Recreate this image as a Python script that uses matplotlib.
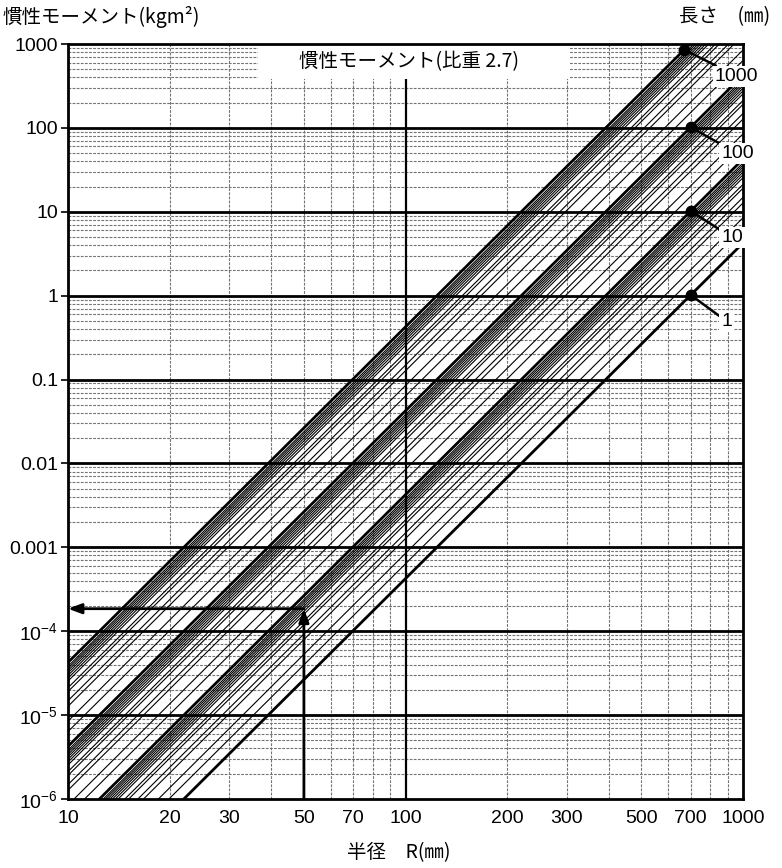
import numpy as np
import matplotlib
matplotlib.use("Agg")
import matplotlib.pyplot as plt
from matplotlib.patches import Rectangle

# ---- chart data -------------------------------------------------------------
specific_gravity = 2.7                      # aluminium
lengths_mm = [1, 10, 100, 1000]             # thick reference lines
band_fractions = [0.9, 0.85, 0.8, 0.75, 0.7, 0.65, 0.6, 0.5, 0.45,
                  0.35, 0.3, 0.2, 0.15]
label_radius_mm = [700, 700, 700, 670]      # dot positions on each thick line
radius_ticks = [10, 20, 30, 50, 70, 100, 200, 300, 500, 700, 1000]
inertia_ticks = [1e-6, 1e-5, 1e-4, 1e-3, 1e-2, 1e-1, 1, 10, 100, 1000]
inertia_ticklabels = [r"$\mathregular{10^{-6}}$", r"$\mathregular{10^{-5}}$",
                      r"$\mathregular{10^{-4}}$", "0.001", "0.01", "0.1",
                      "1", "10", "100", "1000"]
example_radius_mm = 50
example_length_mm = 7

JP = ["Noto Sans CJK JP", "DejaVu Sans"]
NUM = ["Liberation Sans", "DejaVu Sans"]
plt.rcParams["mathtext.fontset"] = "custom"
plt.rcParams["mathtext.rm"] = "Liberation Sans"


def inertia(radius_mm, length_mm):
    """Moment of inertia of a solid cylinder about its axis (kg m^2)."""
    rho = specific_gravity * 1000.0
    r = np.asarray(radius_mm, dtype=float) / 1000.0
    l = np.asarray(length_mm, dtype=float) / 1000.0
    return np.pi / 2.0 * rho * l * r ** 4


fig = plt.figure(figsize=(7.82, 8.68), dpi=100)
ax = fig.add_axes([68 / 782, 1 - 799 / 868, 675 / 782, 755 / 868])
ax.set_xscale("log")
ax.set_yscale("log")
ax.set_xlim(10, 1000)
ax.set_ylim(1e-6, 1000)

# grid: dashed minor lines, solid decade lines
grid_kw = dict(color="0.45", lw=0.8, ls=(0, (2.5, 1.2)), zorder=1)
for dec in [10, 100]:
    for k in range(2, 10):
        ax.axvline(dec * k, **grid_kw)
for e in range(-6, 3):
    for k in range(2, 10):
        ax.axhline(k * 10.0 ** e, **grid_kw)
for v in inertia_ticks[1:-1]:
    ax.axhline(v, color="black", lw=2.0, zorder=4)
ax.axvline(100, color="black", lw=1.6, zorder=4)

# hatch lines for intermediate lengths and thick reference lines
radius = np.array([8.0, 1200.0])
for L in lengths_mm:
    if L > 1:
        for f in band_fractions:
            ax.plot(radius, inertia(radius, L * f), color="black",
                    lw=0.8, zorder=3, solid_capstyle="butt")
    ax.plot(radius, inertia(radius, L), color="black", lw=2.0, zorder=3)

# title panel
ax.add_patch(Rectangle((0.2815, 0.953), 0.46, 0.047, transform=ax.transAxes,
                       facecolor="white", edgecolor="none", zorder=5))
ax.text(0.505, 0.977, "慣性モーメント(比重 2.7)", transform=ax.transAxes,
        ha="center", va="center", fontsize=14, family=JP, zorder=6)

# length labels with leader lines
for L, R in zip(lengths_mm, label_radius_mm):
    J = float(inertia(R, L))
    ax.plot([R], [J], "o", color="black", ms=7.5, zorder=7, clip_on=False)
    ax.annotate(str(L), xy=(R, J), xytext=(22, -19),
                textcoords="offset points", ha="left", va="center",
                fontsize=14, family=NUM, zorder=8, annotation_clip=False,
                bbox=dict(boxstyle="square,pad=0.1", fc="white", ec="none"),
                arrowprops=dict(arrowstyle="-", lw=1.8, color="black",
                                shrinkA=0, shrinkB=0))

# worked example: radius -> inertia
J_ex = float(inertia(example_radius_mm, example_length_mm))
head = "-|>,head_length=0.8,head_width=0.3"
ax.annotate("", xy=(example_radius_mm, J_ex), xytext=(example_radius_mm, 1e-6),
            arrowprops=dict(arrowstyle=head, lw=2.0, color="black",
                            shrinkA=0, shrinkB=0), zorder=7)
ax.annotate("", xy=(10, J_ex), xytext=(example_radius_mm, J_ex),
            arrowprops=dict(arrowstyle=head, lw=2.0, color="black",
                            shrinkA=0, shrinkB=0), zorder=7)

# axes, ticks, labels
for s in ax.spines.values():
    s.set_linewidth(2.0)
    s.set_zorder(6)
ax.set_xticks(radius_ticks)
ax.set_xticklabels([str(v) for v in radius_ticks], family=NUM, fontsize=14)
ax.set_yticks(inertia_ticks)
ax.set_yticklabels(inertia_ticklabels, family=NUM, fontsize=14)
ax.minorticks_off()
ax.tick_params(axis="x", length=0, pad=8)
ax.tick_params(axis="y", length=5, width=1.2, pad=2)

fig.text(3 / 782, 1 - 17 / 868, "慣性モーメント(kgm²)", ha="left",
         va="center", fontsize=14, family=JP)
fig.text(770 / 782, 1 - 17 / 868, "長さ　(㎜)", ha="right", va="center",
         fontsize=14, family=JP)
fig.text(347 / 782, 1 - 853 / 868, "半径　R(㎜)", ha="left", va="center",
         fontsize=14, family=JP)

fig.savefig("out.png", dpi=100)
